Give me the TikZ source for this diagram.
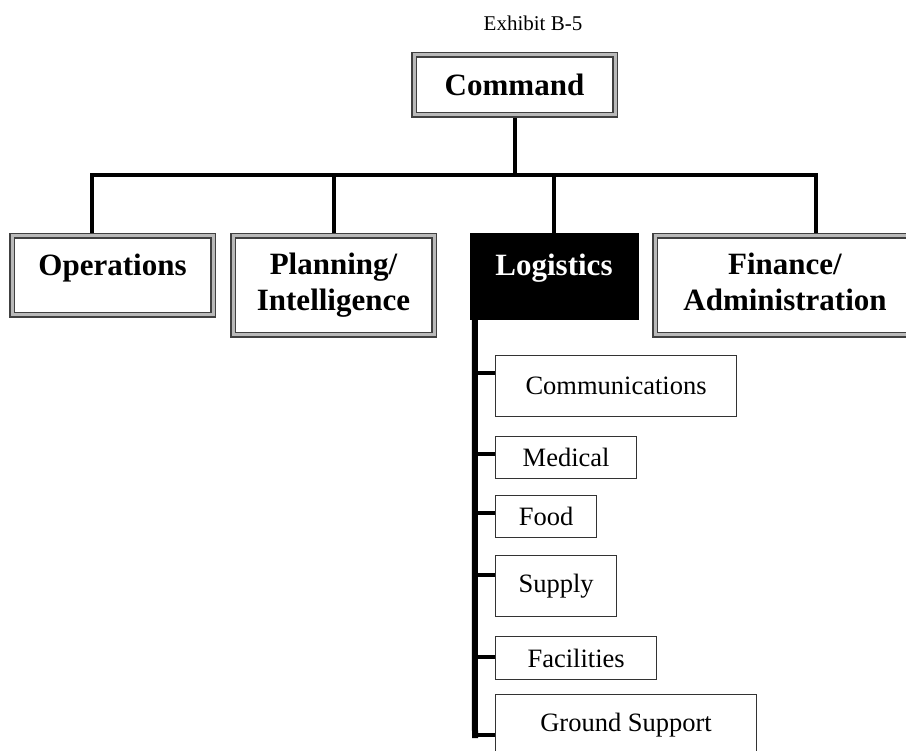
\documentclass[tikz,border=0pt]{standalone}
\usepackage{fontspec}
\setmainfont{Liberation Serif}
\pgfdeclarelayer{bg}
\pgfsetlayers{bg,main}

\tikzset{
  mainbox/.style={draw=black!75, line width=1.5pt, double=gray!55, double distance=3pt,
    fill=white, inner sep=0pt, align=center,
    font=\fontsize{31}{36}\selectfont\bfseries},
  logbox/.style={draw=black, fill=black, text=white, inner sep=0pt, align=center,
    font=\fontsize{31}{36}\selectfont\bfseries},
  subbox/.style={draw=black!80, line width=1.2pt, fill=white, anchor=north west,
    inner sep=0pt, font=\fontsize{26.5}{30}\selectfont},
  link/.style={line width=4pt},
  bus/.style={line width=6pt},
  branch/.style={line width=3.5pt}
}

\begin{document}
\begin{tikzpicture}[x=1pt,y=-1pt]
  \useasboundingbox (0,0) rectangle (906,751);

  \node[font=\fontsize{21}{24}\selectfont] (title) at (533,23) {Exhibit B-5};

  % top level
  \node[mainbox, minimum width=201pt, minimum height=60pt] (cmd) at (514.5,85) {Command};

  % sections
  \node[mainbox, minimum width=201pt, minimum height=79pt, text height=21pt, text depth=20pt]
    (ops) at (112.5,275.5) {Operations};
  \node[mainbox, minimum width=201pt, minimum height=99pt] (plan) at (333.5,285.5) {Planning/\\Intelligence};
  \node[logbox, minimum width=168pt, minimum height=86pt, text height=21pt, text depth=22pt]
    (log) at (554,276) {Logistics};
  \node[mainbox, minimum width=260pt, minimum height=99pt, text depth=7pt]
    (fin) at (785,285.5) {Finance/\\Administration};

  % logistics units
  \node[subbox, minimum width=241pt, minimum height=61pt] (comm) at (495,355) {Communications};
  \node[subbox, minimum width=141pt, minimum height=42pt] (med) at (495,436) {Medical};
  \node[subbox, minimum width=101pt, minimum height=42pt] (food) at (495,495) {Food};
  \node[subbox, minimum width=121pt, minimum height=61pt] (sup) at (495,555) {Supply};
  \node[subbox, minimum width=161pt, minimum height=43pt] (fac) at (495,636) {Facilities};
  \node[subbox, minimum width=261pt, minimum height=61pt] (gnd) at (495,694) {Ground Support};

  \coordinate (busL) at (92,175);
  \coordinate (busR) at (816,175);

  \begin{pgfonlayer}{bg}
    \draw[link] (cmd.south) -- (cmd.south |- busL);
    \draw[link] (busL |- ops.north) -- (busL) -- (busR) -- (busR |- fin.north);
    \draw[link] (plan.north |- busL) -- (plan.north);
    \draw[link] (log.north |- busL) -- (log.north);

    \draw[bus] ([xshift=5pt]log.south west) -- (475,738);
    \foreach \n/\y in {comm/373,med/454,food/513,sup/575,fac/657,gnd/735}
      \draw[branch] (475,\y) -- (\n.west |- 0,\y);
  \end{pgfonlayer}
\end{tikzpicture}
\end{document}
